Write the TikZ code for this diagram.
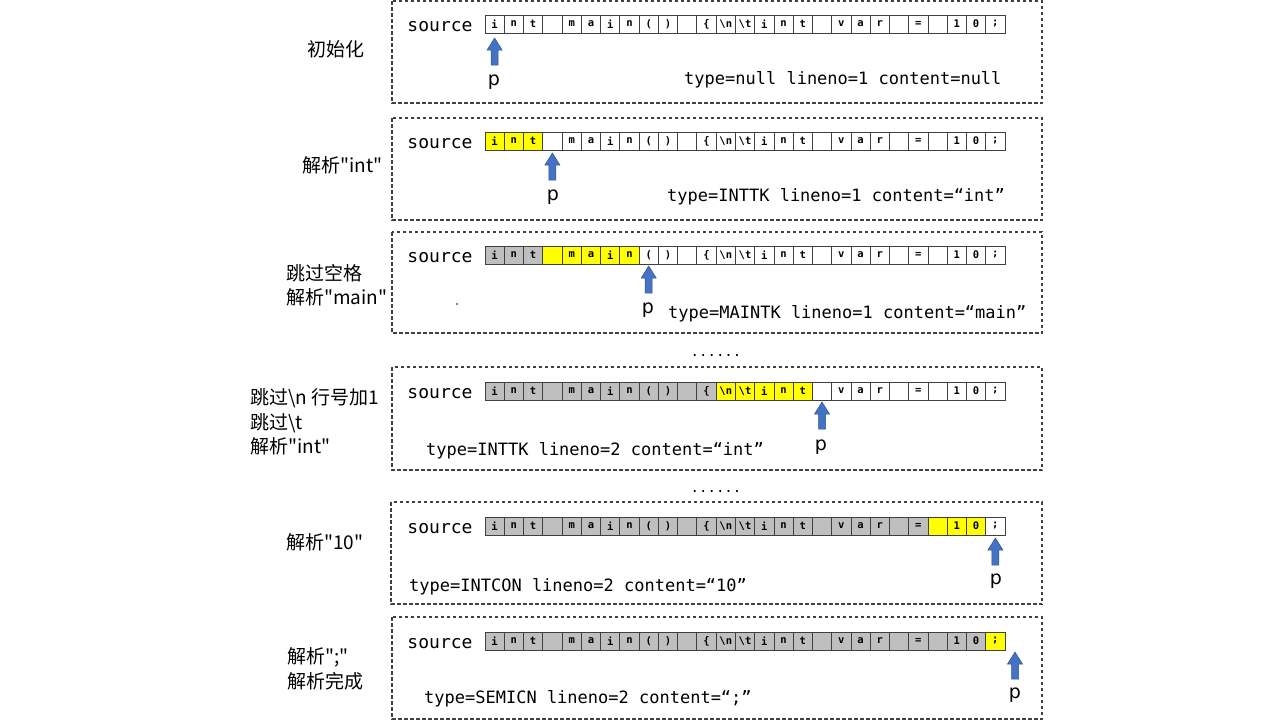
\documentclass[tikz,border=0pt]{standalone}
\usepackage{fontspec}
\setmainfont{DejaVu Sans}
\newfontfamily\monof{DejaVu Sans Mono}
\newfontfamily\cjkf{Noto Sans CJK SC}

\definecolor{cgray}{HTML}{BFBFBF}
\definecolor{cyel}{HTML}{FFFF00}
\definecolor{arrfill}{HTML}{4472C4}
\definecolor{arrline}{HTML}{2F528F}
\definecolor{framec}{HTML}{404040}

\newcommand\celltext[1]{\ifcase#1 i\or n\or t\or \or m\or a\or i\or n\or (\or )\or \or \{\or \textbackslash n\or \textbackslash t\or i\or n\or t\or \or v\or a\or r\or \or =\or \or 1\or 0\or ;\fi}

\tikzset{
  cellbox/.style={rectangle, minimum width=19.26pt, minimum height=18pt, inner sep=0pt, outer sep=0pt,
    draw=framec, line width=0.8pt, font=\monof\bfseries\fontsize{10.5}{10.5}\selectfont},
  srclabel/.style={inner sep=0pt, font=\monof\fontsize{18}{18}\selectfont},
  typetext/.style={anchor=west, inner sep=0pt, font=\monof\fontsize{17}{17}\selectfont},
  plabel/.style={inner sep=0pt, font=\fontsize{19}{19}\selectfont},
  steplabel/.style={anchor=west, inner sep=0pt, align=left, font=\cjkf\fontsize{19}{24.5}\selectfont},
  framebox/.style={draw=framec, line width=1.1pt, dash pattern=on 3.5pt off 2.5pt},
  parrowstyle/.style={fill=arrfill, draw=arrline, line width=0.5pt},
  dotsline/.style={anchor=base, inner sep=0pt, font=\monof\fontsize{14}{14}\selectfont},
}

\newcommand\srcrow[4]{%
  \node[srclabel] (#1-src) at (440,#2+2.5) {source};
  \foreach \i in {0,...,26}{%
    \ifnum\i<#3\relax\def\cfill{cgray}\else\ifnum\i<#4\relax\def\cfill{cyel}\else\def\cfill{white}\fi\fi
    \node[cellbox, fill=\cfill] (#1-c\i) at ({485+19.26*(\i+0.5)},#2) {\celltext{\i}};
  }%
}
\newcommand\parrow[2]{%
  \filldraw[parrowstyle] (#1,#2) -- ++(7.5,12) -- ++(-4,0) -- ++(0,15) -- ++(-7,0) -- ++(0,-15) -- ++(-4,0) -- cycle;
}

\begin{document}
\begin{tikzpicture}[x=1pt, y=-1pt]
\useasboundingbox (0,0) rectangle (1280,720);

% frames
\draw[framebox] (392,1) rectangle (1042,103);
\draw[framebox] (392,118) rectangle (1042,220);
\draw[framebox] (392,232) rectangle (1042,333);
\draw[framebox] (392,367) rectangle (1042,470);
\draw[framebox] (391,502) rectangle (1042,604);
\draw[framebox] (392,617) rectangle (1042,719);

% rows
\srcrow{r1}{24}{0}{0}
\srcrow{r2}{141}{0}{3}
\srcrow{r3}{255}{3}{8}
\srcrow{r4}{391}{12}{17}
\srcrow{r5}{526}{23}{26}
\srcrow{r6}{641}{26}{27}

% pointer arrows
\parrow{494.6}{38}
\parrow{552.4}{153}
\parrow{648.7}{266}
\parrow{822}{402}
\parrow{995.4}{538}
\parrow{1015}{652}

% p labels
\node[plabel] (p1) at (494,82.5) {p};
\node[plabel] (p2) at (553,197.5) {p};
\node[plabel] (p3) at (648,310.5) {p};
\node[plabel] (p4) at (821,447.5) {p};
\node[plabel] (p5) at (996,581.5) {p};
\node[plabel] (p6) at (1015,695.5) {p};

% type lines
\node[typetext] (t1) at (684,80) {type=null lineno=1 content=null};
\node[typetext] (t2) at (667,197) {type=INTTK lineno=1 content=“int”};
\node[typetext] (t3) at (668,314) {type=MAINTK lineno=1 content=“main”};
\node[typetext] (t4) at (426,451) {type=INTTK lineno=2 content=“int”};
\node[typetext] (t5) at (409,587) {type=INTCON lineno=2 content=“10”};
\node[typetext] (t6) at (424,699) {type=SEMICN lineno=2 content=“;”};

% stray dot
\fill[black] (457,304) circle (0.8);

% ellipses
\node[dotsline] (d1) at (716,356) {......};
\node[dotsline] (d2) at (716,492) {......};

% step labels
\node[steplabel] (s1) at (307,49) {初始化};
\node[steplabel] (s2) at (302,165) {解析"int"};
\node[steplabel] (s3) at (286,285) {跳过空格\\解析"main"};
\node[steplabel] (s4) at (250,422) {跳过\textbackslash n 行号加1\\跳过\textbackslash t\\解析"int"};
\node[steplabel] (s5) at (286,542) {解析"10"};
\node[steplabel] (s6) at (287,669) {解析";"\\解析完成};
\end{tikzpicture}
\end{document}
